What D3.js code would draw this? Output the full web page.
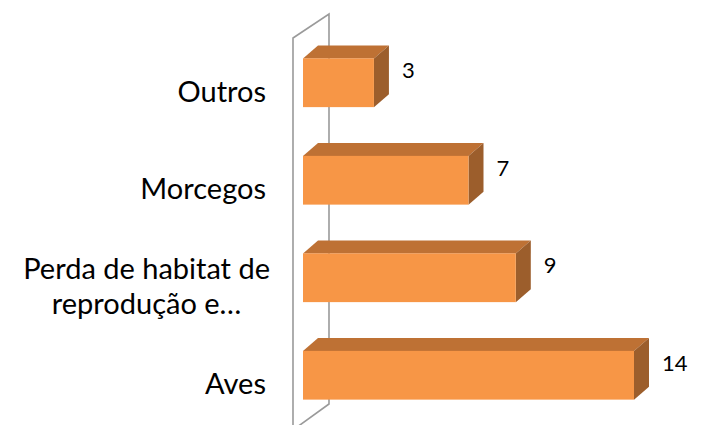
<!DOCTYPE html>
<html><head><meta charset="utf-8">
<script src="https://cdn.jsdelivr.net/npm/d3@7"></script>
<style>body{margin:0;background:#fff}svg{display:block}</style>
</head><body>
<svg id="c" width="705" height="425"></svg>
<script>
const categories = ["Outros", "Morcegos", "Perda de habitat de reprodução e…", "Aves"];
const labelLines = [["Outros"], ["Morcegos"], ["Perda de habitat de", "reprodução e…"], ["Aves"]];
const values = [3, 7, 9, 14];

const svg = d3.select("#c");
const font = "Lato, 'Open Sans', sans-serif";
const x = d3.scaleLinear().domain([0, 14]).range([303, 634]);
const y = d3.scaleBand().domain(categories).range([34, 424]).paddingInner(0.5).paddingOuter(0.25);
const dx = 15, dy = 13;

// wall
const wx0 = x(0) - 10, wx1 = x(0) + 26;
const wall = d3.path();
wall.moveTo(wx0, 430); wall.lineTo(wx0, 38); wall.lineTo(wx1, 14); wall.lineTo(wx1, 404); wall.lineTo(wx0, 430);
svg.append("path").attr("d", wall.toString()).attr("fill", "none").attr("stroke", "#9a9a9a").attr("stroke-width", 1.6);

const g = svg.append("g");
categories.forEach((c, i) => {
  const x0 = x(0), x1 = x(values[i]), t = y(c), b = t + y.bandwidth();
  g.append("path").attr("d", `M${x0},${t}L${x0+dx},${t-dy}L${x1+dx},${t-dy}L${x1},${t}Z`).attr("fill", "#BE7134");
  g.append("path").attr("d", `M${x1},${t}L${x1+dx},${t-dy}L${x1+dx},${b-dy}L${x1},${b}Z`).attr("fill", "#9C5E2C");
  g.append("rect").attr("x", x0).attr("y", t).attr("width", x1 - x0).attr("height", b - t).attr("fill", "#F79646");
  g.append("text").attr("x", x1 + dx + 13).attr("y", t + 12).attr("dy", "0.35em")
    .attr("font-family", font).attr("font-size", 22).attr("fill", "#000").text(values[i]);
  const lines = labelLines[i];
  const cy = t + y.bandwidth() / 2 + 9;
  const lh = 35;
  const tg = g.append("g");
  lines.forEach((ln, k) => {
    tg.append("text").attr("x", 266).attr("y", cy + (k - (lines.length - 1) / 2) * lh).attr("dy", "0.35em")
      .attr("text-anchor", "end").attr("font-family", font).attr("font-size", 29).attr("fill", "#000").text(ln);
  });
  if (lines.length > 1) {
    const nodes = tg.selectAll("text").nodes();
    const widths = nodes.map(n => n.getComputedTextLength());
    const mw = d3.max(widths);
    const center = 266 - mw / 2 + 4;
    nodes.forEach(n => d3.select(n).attr("text-anchor", "middle").attr("x", center));
  }
});
</script>
</body></html>
